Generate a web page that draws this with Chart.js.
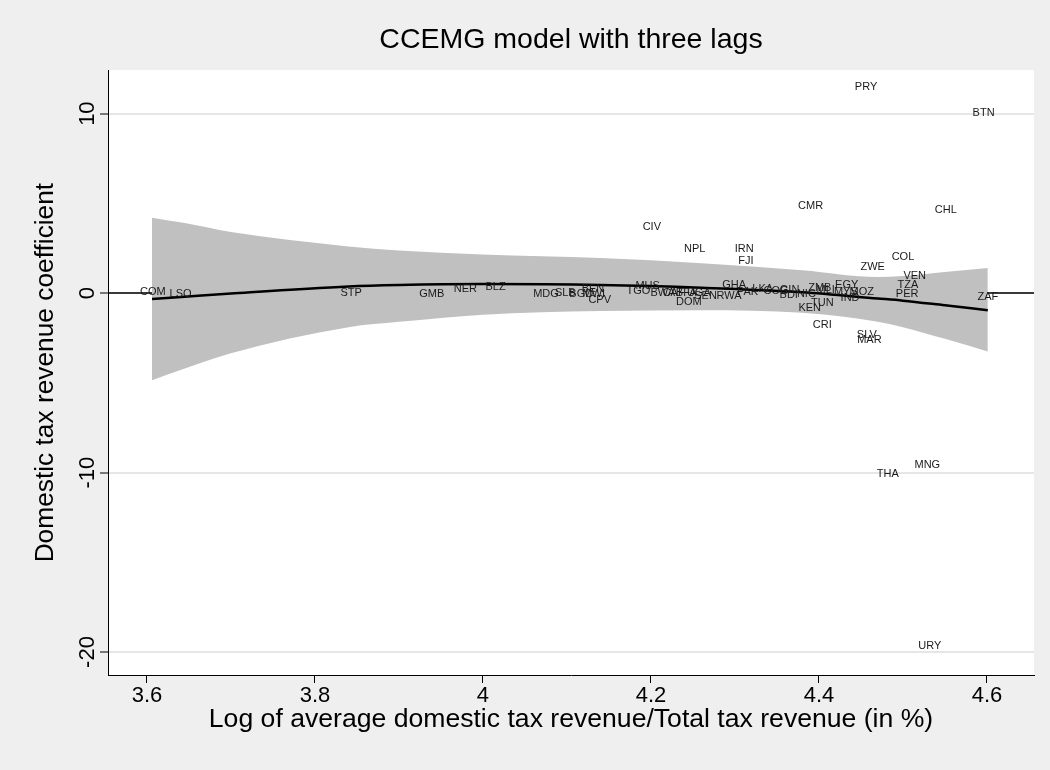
<!DOCTYPE html>
<html>
<head>
<meta charset="utf-8">
<script src="https://cdn.jsdelivr.net/npm/chart.js@4.4.0/dist/chart.umd.min.js"></script>
<style>
html, body { margin: 0; padding: 0; background: #efefef; }
#wrap { width: 1050px; height: 770px; position: relative; }
</style>
</head>
<body>
<div id="wrap"><canvas id="chart"></canvas></div>
<script>
// country labels and their coordinates
var countries = ["COM", "LSO", "STP", "GMB", "NER", "BLZ", "MDG", "SLB", "BGD", "BEN", "MWI", "CPV",
    "TGO", "MUS", "BWA", "CAF", "BFA", "DOM", "UGA", "SEN", "RWA", "GHA", "PAK", "LKA", "COG", "GIN",
    "BDI", "NIC", "ZMB", "MLI", "KEN", "TUN", "EGY", "MYS", "MOZ", "IND", "CRI", "SLV", "MAR", "ZWE",
    "COL", "VEN", "TZA", "PER", "ZAF", "CHL", "CMR", "CIV", "NPL", "IRN", "FJI", "PRY", "BTN", "MNG",
    "THA", "URY"];
var xVals = [3.607, 3.640, 3.843, 3.939, 3.979, 4.015, 4.075, 4.098, 4.117, 4.131, 4.132, 4.139,
    4.185, 4.196, 4.214, 4.227, 4.242, 4.245, 4.257, 4.265, 4.293, 4.299, 4.315, 4.333, 4.349, 4.365,
    4.364, 4.385, 4.401, 4.408, 4.389, 4.404, 4.433, 4.432, 4.451, 4.437, 4.404, 4.457, 4.460, 4.464,
    4.500, 4.514, 4.506, 4.505, 4.601, 4.551, 4.390, 4.201, 4.252, 4.311, 4.313, 4.456, 4.596, 4.529,
    4.482, 4.532];
var yVals = [0.06, -0.06, 0.0, -0.06, 0.22, 0.33, -0.06, 0.0, -0.06, 0.22, -0.06, -0.39,
    0.11, 0.39, 0.0, 0.0, 0.0, -0.5, 0.0, -0.17, -0.17, 0.45, 0.06, 0.22, 0.11, 0.17,
    -0.11, -0.06, 0.28, 0.17, -0.84, -0.56, 0.45, 0.06, 0.06, -0.28, -1.78, -2.34, -2.62, 1.45,
    2.01, 0.95, 0.45, -0.06, -0.22, 4.62, 4.85, 3.68, 2.45, 2.45, 1.78, 11.48, 10.03, -9.58,
    -10.08, -19.67];

// quadratic fit and its confidence band
var fitX = [3.606, 3.645, 3.70, 3.84, 3.90, 4.00, 4.14, 4.26, 4.38, 4.47, 4.50, 4.55, 4.601];
var fitY = [-0.33, -0.2, -0.02, 0.37, 0.45, 0.5, 0.45, 0.3, 0.05, -0.3, -0.42, -0.68, -0.95];
var ciUpper = [4.2, 3.9, 3.4, 2.6, 2.38, 2.15, 1.95, 1.67, 1.28, 0.9, 0.95, 1.17, 1.4];
var ciLower = [-4.85, -4.2, -3.35, -1.9, -1.6, -1.2, -1.0, -0.95, -1.1, -1.6, -1.9, -2.55, -3.25];

var xTicks = [3.6, 3.8, 4, 4.2, 4.4, 4.6];
var yTicks = [-20, -10, 0, 10];
var xRange = [3.5536, 4.656];
var yRange = [-21.28, 12.42];

var fontFamily = "'Liberation Sans', Arial, sans-serif";

function toPoints(xs, ys) {
    var pts = [];
    for (var i = 0; i < xs.length; i++) {
        pts.push({ x: xs[i], y: ys[i] });
    }
    return pts;
}

var plotBackground = {
    id: 'plotBackground',
    beforeDraw: function (chart) {
        var a = chart.chartArea;
        var ctx = chart.ctx;
        ctx.save();
        ctx.fillStyle = '#ffffff';
        ctx.fillRect(a.left, a.top, a.right - a.left, a.bottom - a.top);
        ctx.restore();
    }
};

// y tick labels are drawn turned, like the original
var yTickLabels = {
    id: 'yTickLabels',
    afterDraw: function (chart) {
        var scale = chart.scales.y;
        var ctx = chart.ctx;
        ctx.save();
        ctx.fillStyle = '#000';
        ctx.font = '22px ' + fontFamily;
        ctx.textAlign = 'center';
        ctx.textBaseline = 'middle';
        yTicks.forEach(function (v) {
            var py = scale.getPixelForValue(v);
            ctx.save();
            ctx.translate(scale.left + 88, py);
            ctx.rotate(-Math.PI / 2);
            ctx.fillText(String(v), 0, 0);
            ctx.restore();
        });
        ctx.restore();
    }
};

var pointLabels = {
    id: 'pointLabels',
    afterDatasetsDraw: function (chart) {
        var meta = chart.getDatasetMeta(4);
        var ctx = chart.ctx;
        ctx.save();
        ctx.fillStyle = '#1a1a1a';
        ctx.font = '11px ' + fontFamily;
        ctx.textAlign = 'center';
        ctx.textBaseline = 'middle';
        meta.data.forEach(function (el, i) {
            ctx.fillText(countries[i], el.x, el.y);
        });
        ctx.restore();
    }
};

var ctx = document.getElementById('chart').getContext('2d');
var chart = new Chart(ctx, {
    type: 'scatter',
    data: {
        datasets: [{
            type: 'line',
            data: toPoints(xRange, [0, 0]),
            borderColor: '#000',
            borderWidth: 1.5,
            pointRadius: 0,
            order: 5
        }, {
            type: 'line',
            data: toPoints(fitX, ciLower),
            borderWidth: 0,
            pointRadius: 0,
            cubicInterpolationMode: 'monotone',
            fill: false,
            order: 4
        }, {
            type: 'line',
            data: toPoints(fitX, ciUpper),
            borderWidth: 0,
            pointRadius: 0,
            cubicInterpolationMode: 'monotone',
            backgroundColor: '#c0c0c0',
            fill: 1,
            order: 3
        }, {
            type: 'line',
            data: toPoints(fitX, fitY),
            borderColor: '#000',
            borderWidth: 2.5,
            pointRadius: 0,
            cubicInterpolationMode: 'monotone',
            fill: false,
            order: 2
        }, {
            data: toPoints(xVals, yVals),
            pointRadius: 0,
            pointHoverRadius: 0,
            order: 1
        }]
    },
    options: {
        responsive: true,
        maintainAspectRatio: false,
        animation: false,
        layout: { padding: { left: 0, right: 16, top: 0, bottom: 0 } },
        plugins: {
            legend: { display: false },
            tooltip: { enabled: false },
            title: {
                display: true,
                text: 'CCEMG model with three lags',
                color: '#000',
                fullSize: false,
                font: { family: fontFamily, size: 28.5, weight: 'normal' },
                padding: { top: 23, bottom: 13 }
            }
        },
        scales: {
            x: {
                type: 'linear',
                min: xRange[0],
                max: xRange[1],
                afterBuildTicks: function (scale) {
                    scale.ticks = xTicks.map(function (v) { return { value: v }; });
                },
                afterFit: function (scale) { scale.height = 95; },
                ticks: {
                    autoSkip: false,
                    maxRotation: 0,
                    padding: 0,
                    color: '#000',
                    font: { family: fontFamily, size: 22 },
                    callback: function (v) { return String(v); }
                },
                grid: {
                    drawOnChartArea: false,
                    drawTicks: true,
                    tickLength: 8,
                    tickColor: '#000',
                    tickWidth: 1
                },
                border: { display: true, color: '#000', width: 1 },
                title: {
                    display: true,
                    text: 'Log of average domestic tax revenue/Total tax revenue (in %)',
                    color: '#000',
                    font: { family: fontFamily, size: 26.6 },
                    padding: { top: 0, bottom: 34 }
                }
            },
            y: {
                type: 'linear',
                min: yRange[0],
                max: yRange[1],
                afterBuildTicks: function (scale) {
                    scale.ticks = yTicks.map(function (v) { return { value: v }; });
                },
                afterFit: function (scale) { scale.width = 108; },
                ticks: { display: false },
                grid: {
                    color: '#e6e6e6',
                    lineWidth: 2,
                    drawTicks: true,
                    tickLength: 8,
                    tickColor: '#000',
                    tickWidth: 1
                },
                border: { display: true, color: '#000', width: 1 },
                title: {
                    display: true,
                    text: 'Domestic tax revenue coefficient',
                    color: '#000',
                    font: { family: fontFamily, size: 26.3 },
                    padding: { top: 30, bottom: 0 }
                }
            }
        }
    },
    plugins: [plotBackground, yTickLabels, pointLabels]
});
</script>
</body>
</html>
